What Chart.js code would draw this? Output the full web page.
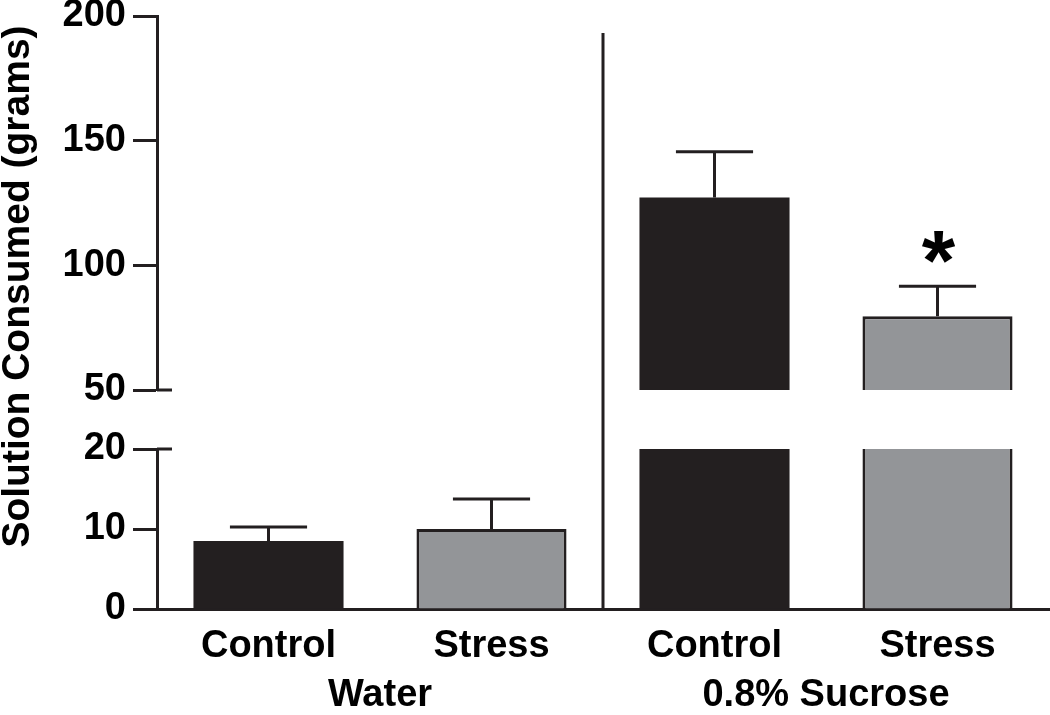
<!DOCTYPE html>
<html>
<head>
<meta charset="utf-8">
<script src="https://cdn.jsdelivr.net/npm/chart.js@4/dist/chart.umd.min.js"></script>
<style>
  html, body { margin: 0; padding: 0; background: #fff; }
  #wrap { width: 1050px; height: 715px; }
</style>
</head>
<body>
<div id="wrap"><canvas id="chart"></canvas></div>
<script>
// data
const categories = ['Control', 'Stress', 'Control', 'Stress']
const groups = ['Water', '0.8% Sucrose']
const means = [8.5, 10.0, 127.2, 79.6]
const sem = [1.75, 3.75, 18.4, 12.0]
const marks = ['', '', '', '*']
const lowTicks = [0, 10, 20]
const highTicks = [50, 100, 150, 200]
const yTitle = 'Solution Consumed (grams)'

const ink = '#231f20'
const gray = '#939598'
const barColors = [ink, gray, ink, gray]
const barBorders = [0, 3, 0, 3]
const font = { family: 'Liberation Sans, Arial, sans-serif', size: 38, weight: 'bold', lineHeight: 1 }

const lowMin = lowTicks[0], lowMax = lowTicks[lowTicks.length - 1]
const highMin = highTicks[0], highMax = highTicks[highTicks.length - 1]

// lower segment gets the part up to the break, upper segment the rest
const lowData = means.map(v => Math.min(v, lowMax))
const highData = means.map(v => v > lowMax ? [highMin, v] : null)

// outlined bars: no edge on the axis, no edge at the break
const lowBorder = ctx => {
  const w = barBorders[ctx.dataIndex]
  if (!w) return 0
  return { left: w, right: w, top: means[ctx.dataIndex] > lowMax ? 0 : w, bottom: 0 }
}
const highBorder = ctx => {
  const w = barBorders[ctx.dataIndex]
  return w ? { left: w, right: w, top: w, bottom: 0 } : 0
}

// vertical scales: no label overflow padding, fixed width
const fixY = s => { s.width = 157; s.paddingTop = 0; s.paddingBottom = 0 }

const extras = {
  id: 'extras',
  beforeDatasetsDraw(chart) {
    const { ctx, scales: { x, yHigh, yLow } } = chart
    // divider between the two solutions
    const dx = (x.getPixelForValue(1) + x.getPixelForValue(2)) / 2
    ctx.save()
    ctx.strokeStyle = ink
    ctx.lineWidth = 3
    ctx.beginPath()
    ctx.moveTo(dx, yHigh.top + 17)
    ctx.lineTo(dx, yLow.bottom)
    ctx.stroke()
    ctx.restore()
  },
  afterDatasetsDraw(chart) {
    const { ctx, scales: { x, yHigh, yLow } } = chart
    ctx.save()
    ctx.strokeStyle = ink
    ctx.fillStyle = '#000'
    ctx.lineWidth = 3
    means.forEach((m, i) => {
      const ys = m > lowMax ? yHigh : yLow
      const bar = chart.getDatasetMeta(0).data[i]
      const cx = x.getPixelForValue(i)
      const yTop = ys.getPixelForValue(m)
      const yErr = ys.getPixelForValue(m + sem[i])
      const half = bar.width * 0.257
      ctx.beginPath()
      ctx.moveTo(cx, yTop)
      ctx.lineTo(cx, yErr)
      ctx.moveTo(cx - half, yErr)
      ctx.lineTo(cx + half, yErr)
      ctx.stroke()
      if (marks[i]) {
        ctx.font = 'bold 86px Liberation Sans, Arial, sans-serif'
        ctx.textAlign = 'center'
        ctx.textBaseline = 'alphabetic'
        ctx.fillText(marks[i], cx + 1, yErr + 4)
      }
    })

    // little extensions of the ticks on both sides of the axis break
    const ax = yLow.right
    ctx.beginPath()
    ctx.moveTo(ax, yLow.getPixelForValue(lowMax))
    ctx.lineTo(ax + 15, yLow.getPixelForValue(lowMax))
    ctx.moveTo(ax, yHigh.getPixelForValue(highMin))
    ctx.lineTo(ax + 15, yHigh.getPixelForValue(highMin))
    ctx.stroke()

    // axis title spanning both segments
    ctx.translate(18, (yHigh.top + yLow.bottom) / 2 - 26)
    ctx.rotate(-Math.PI / 2)
    ctx.font = 'bold 39px Liberation Sans, Arial, sans-serif'
    ctx.textAlign = 'center'
    ctx.textBaseline = 'middle'
    ctx.fillText(yTitle, 0, 0)
    ctx.restore()
  }
}

const yScale = (min, max, step, weight) => ({
  type: 'linear',
  position: 'left',
  stack: 'y',
  stackWeight: weight,
  min: min,
  max: max,
  ticks: { stepSize: step, font: font, color: '#000', padding: 7 },
  grid: { drawOnChartArea: false, tickLength: 24, tickWidth: 3, tickColor: ink },
  border: { color: ink, width: 3 },
  afterFit: fixY
})

new Chart(document.querySelector('#chart'), {
  type: 'bar',
  data: {
    labels: categories,
    datasets: [{
      data: lowData,
      yAxisID: 'yLow',
      backgroundColor: barColors,
      borderColor: ink,
      borderWidth: lowBorder,
      borderSkipped: false,
      grouped: false
    }, {
      data: highData,
      yAxisID: 'yHigh',
      backgroundColor: barColors,
      borderColor: ink,
      borderWidth: highBorder,
      borderSkipped: false,
      grouped: false
    }]
  },
  plugins: [extras],
  options: {
    responsive: true,
    maintainAspectRatio: false,
    animation: false,
    categoryPercentage: 1,
    barPercentage: 0.673,
    layout: { padding: { top: 16, right: 1, left: 0, bottom: 0 } },
    plugins: { legend: { display: false }, tooltip: { enabled: false } },
    scales: {
      x: {
        type: 'category',
        position: 'bottom',
        grid: { display: false, drawTicks: false },
        border: { color: ink, width: 3 },
        ticks: { font: font, color: '#000', padding: 19 },
        afterFit: s => { s.height = 58; s.paddingLeft = 0; s.paddingRight = 0 }
      },
      xGroup: {
        type: 'category',
        position: 'bottom',
        labels: groups,
        offset: true,
        grid: { display: false, drawTicks: false },
        border: { display: false },
        ticks: { font: font, color: '#000', padding: 10 },
        afterFit: s => { s.height = 48; s.paddingLeft = 0; s.paddingRight = 0 }
      },
      yLow: yScale(lowMin, lowMax, 10, 160),
      yGap: {
        type: 'linear',
        position: 'left',
        stack: 'y',
        stackWeight: 59,
        ticks: { display: false },
        grid: { display: false },
        border: { display: false },
        afterFit: fixY
      },
      yHigh: yScale(highMin, highMax, 50, 374)
    }
  }
})
</script>
</body>
</html>
